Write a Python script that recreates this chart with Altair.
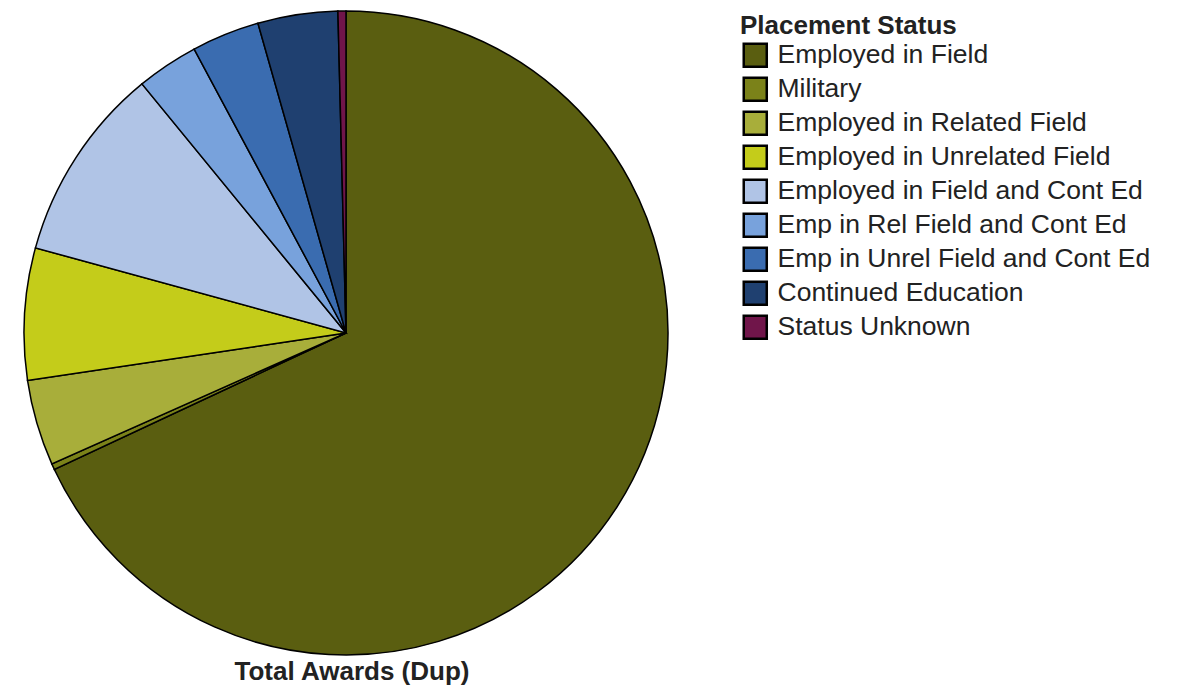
import altair as alt
import pandas as pd

categories = [
    "Employed in Field",
    "Military",
    "Employed in Related Field",
    "Employed in Unrelated Field",
    "Employed in Field and Cont Ed",
    "Emp in Rel Field and Cont Ed",
    "Emp in Unrel Field and Cont Ed",
    "Continued Education",
    "Status Unknown",
]
values = [679, 3, 43, 66, 98, 31, 34, 40, 4]
colors = ["#5a5e10", "#7b8219", "#a8ae3a", "#c4cc1a", "#b0c4e6",
          "#78a2dc", "#3a6cb0", "#1f4070", "#70154a"]

df = pd.DataFrame({"status": categories, "count": values, "order": list(range(len(categories)))})

chart = (
    alt.Chart(df)
    .mark_arc(stroke="black", strokeWidth=1.5, outerRadius=322)
    .encode(
        theta=alt.Theta("count:Q", stack=True),
        order=alt.Order("order:Q"),
        color=alt.Color(
            "status:N",
            sort=categories,
            scale=alt.Scale(domain=categories, range=colors),
            legend=alt.Legend(
                title="Placement Status",
                orient="none",
                legendX=732,
                legendY=2,
                titleFontSize=26,
                titleFont="Liberation Sans",
                titleFontWeight="bold",
                titleColor="#222222",
                titleLimit=600,
                titlePadding=3,
                labelFontSize=26.5,
                labelFont="Liberation Sans",
                labelColor="#222222",
                labelLimit=600,
                symbolType="square",
                symbolSize=530,
                symbolStrokeColor="black",
                symbolStrokeWidth=2.5,
                symbolOpacity=1,
                symbolOffset=2,
                labelOffset=9,
                rowPadding=0,
                padding=0,
            ),
        ),
    )
    .properties(
        width=676,
        height=644,
        padding=0,
        title=alt.TitleParams(
            "Total Awards (Dup)",
            orient="bottom",
            anchor="middle",
            fontSize=26,
            font="Liberation Sans",
            fontWeight="bold",
            color="#222222",
            offset=1,
            dx=6,
        ),
    )
    .configure_view(stroke=None)
)

chart.save("out.html", embed_options={"renderer": "svg", "actions": False})
